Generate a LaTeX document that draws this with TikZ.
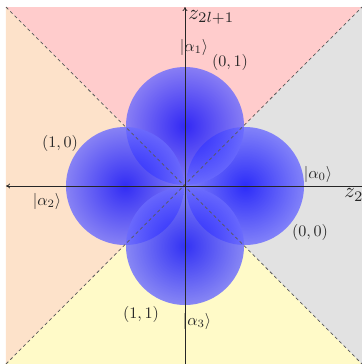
\documentclass[tikz,border=0pt]{standalone}
\usetikzlibrary{arrows.meta}
\definecolor{regtopc}{RGB}{255,204,204}
\definecolor{regleftc}{RGB}{253,226,202}
\definecolor{regbotc}{RGB}{255,250,200}
\definecolor{regrightc}{RGB}{226,226,226}
\definecolor{blobout}{RGB}{212,212,255}
\pgfdeclareradialshading{blob}{\pgfpoint{0bp}{0bp}}{color(0bp)=(blue); color(50bp)=(blobout)}
\begin{document}
\begin{tikzpicture}[x=0.62pt,y=-0.62pt,
  diag/.style={draw=black!65, dashed, dash pattern=on 2pt off 1.8pt, line width=0.45pt},
  axis/.style={draw=black!85, line width=0.45pt, -{To[length=2.5pt,width=3pt]}},
  blobstyle/.style={shading=blob, fill opacity=0.8},
  lbl/.style={inner sep=0pt, text=black!85},
  axlbl/.style={inner sep=0pt, text=black!85, scale=1.3}]
\useasboundingbox (0,0) rectangle (362,364);
\coordinate (O) at (185,186);
\coordinate (TL) at (6,7);
\coordinate (TR) at (362,7);
\coordinate (BL) at (6,364);
\coordinate (BR) at (362,364);
\coordinate (axL) at (6,186);
\coordinate (axR) at (362,186);
\coordinate (axT) at (185,7);
\coordinate (axB) at (185,364);
% regions
\fill[regtopc] (TL) -- (TR) -- (O) -- cycle;
\fill[regleftc] (TL) -- (BL) -- (O) -- cycle;
\fill[regbotc] (BL) -- (BR) -- (O) -- cycle;
\fill[regrightc] (TR) -- (BR) -- (O) -- cycle;
% blobs
\shade[blobstyle] (245,186) circle[radius=59];
\shade[blobstyle] (185,126) circle[radius=59];
\shade[blobstyle] (125,186) circle[radius=59];
\shade[blobstyle] (185,246) circle[radius=59];
% diagonals
\draw[diag] (TL) -- (BR);
\draw[diag] (BL) -- (TR);
% axes
\draw[axis] (axR) -- (axL);
\draw[axis] (axB) -- (axT);
% labels
\node[axlbl, anchor=west] (zv) at (188,17) {$z_{2l+1}$};
\node[axlbl, anchor=west] (z2) at (344,195) {$z_2$};
\node[lbl] (a1) at (194,47) {$|\alpha_1\rangle$};
\node[lbl] (p01) at (230,62) {$(0,1)$};
\node[lbl] (p10) at (60,143) {$(1,0)$};
\node[lbl] (a0) at (318,174) {$|\alpha_0\rangle$};
\node[lbl] (a2) at (47,201) {$|\alpha_2\rangle$};
\node[lbl] (p00) at (310,232) {$(0,0)$};
\node[lbl] (p11) at (141,314) {$(1,1)$};
\node[lbl] (a3) at (197,321) {$|\alpha_3\rangle$};
\end{tikzpicture}
\end{document}
